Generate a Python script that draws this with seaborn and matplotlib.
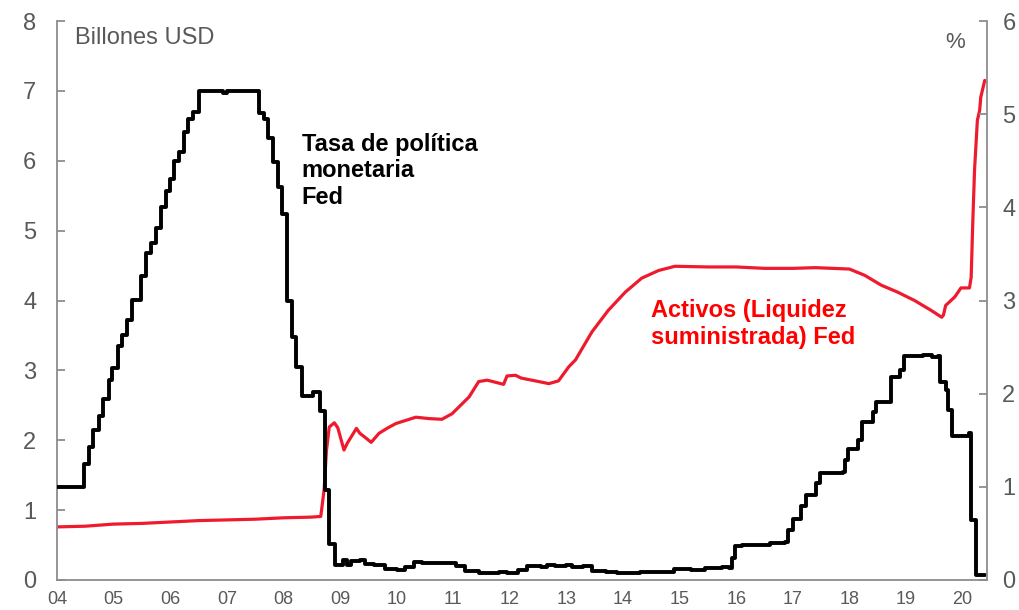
import matplotlib
matplotlib.use("Agg")
import matplotlib.pyplot as plt
import seaborn as sns

# Activos de la Fed (billones USD, eje izquierdo)
activos_anio = [
    2004.00, 2004.50, 2005.00, 2005.50, 2006.00, 2006.50, 2007.00, 2007.50,
    2008.00, 2008.50, 2008.66, 2008.72, 2008.76, 2008.81, 2008.90, 2008.96,
    2009.07, 2009.13, 2009.29, 2009.35, 2009.46, 2009.55, 2009.69, 2009.85,
    2009.99, 2010.34, 2010.57, 2010.80, 2010.98, 2011.28, 2011.45, 2011.60,
    2011.89, 2011.95, 2012.10, 2012.20, 2012.51, 2012.69, 2012.86, 2013.04,
    2013.16, 2013.45, 2013.74, 2014.04, 2014.33, 2014.63, 2014.92, 2015.50,
    2016.00, 2016.50, 2017.00, 2017.40, 2018.00, 2018.27, 2018.56, 2018.85,
    2019.15, 2019.44, 2019.63, 2019.66, 2019.70, 2019.86, 2019.97, 2020.12,
    2020.15, 2020.18, 2020.21, 2020.26, 2020.30, 2020.32, 2020.39,
]
activos_billones = [
    0.76, 0.77, 0.80, 0.81, 0.83, 0.85, 0.86, 0.87,
    0.89, 0.90, 0.91, 1.30, 1.85, 2.19, 2.25, 2.18,
    1.86, 1.96, 2.17, 2.10, 2.03, 1.97, 2.10, 2.18,
    2.24, 2.33, 2.31, 2.30, 2.38, 2.62, 2.84, 2.86,
    2.80, 2.92, 2.93, 2.89, 2.84, 2.81, 2.85, 3.05,
    3.15, 3.55, 3.86, 4.12, 4.32, 4.43, 4.49, 4.48,
    4.48, 4.46, 4.46, 4.47, 4.45, 4.36, 4.22, 4.12,
    4.00, 3.86, 3.76, 3.79, 3.93, 4.05, 4.18, 4.18,
    4.33, 5.15, 5.87, 6.58, 6.72, 6.91, 7.15,
]

# Tasa de política monetaria Fed (%, eje derecho)
tasa_anio = [
    2004.00, 2004.47, 2004.57, 2004.64, 2004.75, 2004.82, 2004.91, 2004.98,
    2005.07, 2005.14, 2005.24, 2005.32, 2005.48, 2005.58, 2005.66, 2005.75,
    2005.84, 2005.92, 2006.00, 2006.07, 2006.15, 2006.25, 2006.32, 2006.41,
    2006.50, 2006.94, 2007.00, 2007.56, 2007.65, 2007.73, 2007.82, 2007.90,
    2007.97, 2008.06, 2008.15, 2008.23, 2008.32, 2008.53, 2008.65, 2008.74,
    2008.81, 2008.91, 2009.05, 2009.12, 2009.20, 2009.35, 2009.45, 2009.60,
    2009.80, 2010.00, 2010.15, 2010.30, 2010.45, 2010.90, 2011.05, 2011.20,
    2011.45, 2011.60, 2011.80, 2011.95, 2012.15, 2012.30, 2012.55, 2012.65,
    2012.80, 2013.00, 2013.10, 2013.30, 2013.45, 2013.70, 2013.90, 2014.10,
    2014.30, 2014.50, 2014.90, 2015.20, 2015.45, 2015.75, 2015.88, 2015.92,
    2015.97, 2016.10, 2016.40, 2016.60, 2016.86, 2016.92, 2017.00, 2017.15,
    2017.23, 2017.41, 2017.48, 2017.89, 2017.92, 2017.97, 2018.15, 2018.22,
    2018.41, 2018.47, 2018.73, 2018.90, 2018.97, 2019.30, 2019.45, 2019.56,
    2019.60, 2019.70, 2019.74, 2019.82, 2020.12, 2020.15, 2020.23, 2020.40,
]
tasa_pct = [
    1.00, 1.25, 1.43, 1.61, 1.76, 1.94, 2.15, 2.28,
    2.51, 2.63, 2.79, 3.01, 3.26, 3.51, 3.62, 3.78,
    4.00, 4.17, 4.30, 4.50, 4.59, 4.81, 4.95, 5.02,
    5.25, 5.23, 5.25, 5.01, 4.95, 4.74, 4.49, 4.22,
    3.93, 2.99, 2.61, 2.29, 1.98, 2.02, 1.81, 0.97,
    0.39, 0.16, 0.22, 0.16, 0.20, 0.22, 0.17, 0.16,
    0.12, 0.11, 0.14, 0.19, 0.18, 0.18, 0.15, 0.10,
    0.08, 0.07, 0.09, 0.07, 0.11, 0.15, 0.14, 0.16,
    0.15, 0.16, 0.14, 0.15, 0.10, 0.09, 0.08, 0.07,
    0.09, 0.09, 0.12, 0.11, 0.13, 0.14, 0.13, 0.24,
    0.36, 0.38, 0.38, 0.40, 0.41, 0.54, 0.66, 0.79,
    0.91, 1.04, 1.15, 1.16, 1.29, 1.41, 1.50, 1.70,
    1.80, 1.91, 2.18, 2.25, 2.40, 2.42, 2.39, 2.40,
    2.12, 2.04, 1.83, 1.55, 1.58, 0.64, 0.05, 0.05,
]

anios_ticks = list(range(2004, 2021))
etiquetas_x = [f"{a % 100:02d}" for a in anios_ticks]

GRIS = "#595959"
EJE = "#8c8c8c"
ROJO = "#ee1b2e"

sns.set_style("white")
plt.rcParams['font.family'] = ['Liberation Sans', 'DejaVu Sans']

fig = plt.figure(figsize=(10.2, 6.1), dpi=100)
ax = fig.add_axes([57 / 1020, 30 / 610, 930 / 1020, 559 / 610])
ax2 = ax.twinx()

sns.lineplot(x=activos_anio, y=activos_billones, ax=ax, color=ROJO,
             linewidth=2.3, estimator=None, sort=False)
sns.lineplot(x=tasa_anio, y=tasa_pct, ax=ax2, color="black",
             linewidth=2.8, drawstyle="steps-post", estimator=None, sort=False)

ax.set_xlim(2004, 2020.43)
ax.set_ylim(0, 8)
ax2.set_ylim(0, 6)
ax.set_xticks(anios_ticks)
ax.set_xticklabels(etiquetas_x)
ax.set_yticks(range(0, 9))
ax2.set_yticks(range(0, 7))
ax.set_xlabel("")
ax.set_ylabel("")
ax2.set_ylabel("")

for a in (ax, ax2):
    for s in a.spines.values():
        s.set_visible(False)
ax.spines['left'].set_visible(True)
ax.spines['bottom'].set_visible(True)
ax2.spines['right'].set_visible(True)
for s in (ax.spines['left'], ax.spines['bottom'], ax2.spines['right']):
    s.set_color(EJE)
    s.set_linewidth(1.3)

ax.tick_params(axis='x', direction='out', length=6, width=1.3, color=EJE,
               labelcolor=GRIS, labelsize=13, pad=2)
ax.tick_params(axis='y', direction='in', length=6, width=1.3, color=EJE,
               labelcolor=GRIS, labelsize=17, pad=15)
ax2.tick_params(axis='y', direction='in', length=6, width=1.3, color=EJE,
                labelcolor=GRIS, labelsize=17, pad=11)

ax.text(0.0194, 0.9696, "Billones USD", transform=ax.transAxes,
        ha='left', va='center', fontsize=17, color=GRIS)
ax.text(0.9656, 0.9624, "%", transform=ax.transAxes,
        ha='center', va='center', fontsize=16, color=GRIS)

ax.text(0.263, 0.80, "Tasa de política\nmonetaria\nFed", transform=ax.transAxes,
        ha='left', va='top', fontsize=17, fontweight='bold', color="black")
ax.text(0.639, 0.502, "Activos (Liquidez\nsuministrada) Fed", transform=ax.transAxes,
        ha='left', va='top', fontsize=17, fontweight='bold', color="#ff0000")

fig.savefig("out.png", dpi=100)
plt.close(fig)
